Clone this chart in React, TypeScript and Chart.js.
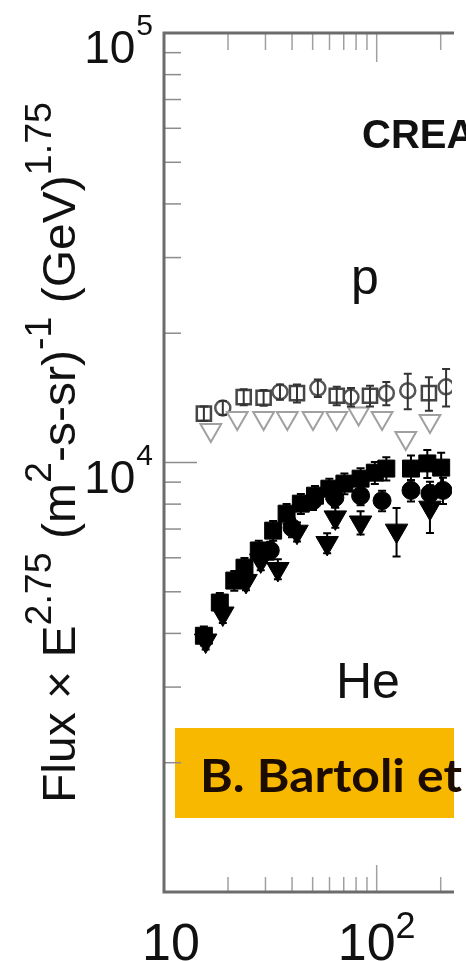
import React, { useEffect, useRef } from "react";
import { Chart, registerables } from "chart.js";

Chart.register(...registerables);

// ---- data (energy in GeV, flux x E^2.75) ----
const pTriE = [16.6, 22.1, 29.4, 38.0, 50.2, 64.9, 82.2, 106, 137, 178];
const pTriF = [11900, 12700, 12700, 12700, 12700, 12700, 13000, 12700, 11400, 12500];

const pSqE = [15.4, 23.7, 29.4, 42.2, 64.9, 93, 176];
const pSqF = [13000, 14200, 14150, 14500, 14300, 14300, 14500];
const pSqErr = [500, 600, 600, 700, 700, 800, 1300];

const pCircE = [18.9, 35.1, 52.9, 75.7, 111, 140, 212];
const pCircF = [13400, 14600, 14900, 14200, 14500, 14700, 15000];
const pCircErr = [500, 600, 700, 700, 900, 1400, 1500];

const heSqE = [15.4, 18.3, 21.4, 23.9, 27.9, 32.6, 37.7, 44.0, 51.3, 59.9, 70.5, 84.0, 98.0, 111, 145, 173, 201];
const heSqF = [3950, 4720, 5310, 5690, 6240, 6940, 7600, 8020, 8370, 8690, 8930, 9170, 9470, 9680, 9680, 9950, 9730];
const heSqErr = [200, 250, 280, 300, 330, 370, 400, 430, 450, 480, 500, 520, 560, 600, 700, 750, 800];

const heTriE = [15.7, 18.9, 24.3, 28.5, 34.3, 42.2, 58.5, 63.9, 84.0, 124, 178];
const heTriF = [3850, 4450, 5300, 5915, 5650, 6900, 6495, 7450, 7250, 6940, 7850];
const heTriErr = [180, 220, 260, 300, 300, 350, 350, 400, 450, 900, 1000];

const heCircE = [31.6, 40, 50.2, 63.6, 84, 106, 145, 178, 205];
const heCircF = [6240, 7050, 8150, 8280, 8370, 8150, 8610, 8470, 8610];
const heCircErr = [300, 350, 400, 400, 420, 450, 500, 550, 600];

// ---- axes ----
const xMin = 10;
const xMax = 226;
const yMin = 1000;
const yMax = 100000;
const xMajorTicks = [10, 100];
const xMinorTicks = [20, 30, 40, 50, 60, 70, 80, 90, 200];
const yMajorTicks = [1000, 10000, 100000];
const yMinorTicks = [2000, 3000, 4000, 5000, 6000, 7000, 8000, 9000, 20000, 30000, 40000, 50000, 60000, 70000, 80000, 90000];
const xLabelValues = [10, 100];
const xLabelBase = ["10", "10"];
const xLabelSup = ["", "2"];
const yLabelValues = [10000, 100000];
const yLabelBase = ["10", "10"];
const yLabelSup = ["4", "5"];

const yTitleParts: [string, boolean][] = [
  ["Flux \u00d7 E", false],
  ["2.75", true],
  [" (m", false],
  ["2", true],
  ["-s-sr)", false],
  ["-1", true],
  [" (GeV)", false],
  ["1.75", true],
];

const annoCream = "CREAM";
const annoP = "p";
const annoHe = "He";
const annoRef = "B. Bartoli et";

const pts = (xs: number[], ys: number[]) => xs.map((x, i) => ({ x, y: ys[i] }));

const MAIN_FONT = "46px 'Liberation Sans', Arial, sans-serif";
const SUP_FONT = "36px 'Liberation Sans', Arial, sans-serif";

const decorPlugin = {
  id: "decor",
  beforeDatasetsDraw(chart: any) {
    const ctx = chart.ctx as CanvasRenderingContext2D;
    const { left, top, right, bottom } = chart.chartArea;
    const xs = chart.scales.x;
    const ys = chart.scales.y;
    ctx.save();
    // orange reference box
    ctx.fillStyle = "#F9B800";
    ctx.fillRect(175, 728, right - 175 + 2, 90);
    ctx.fillStyle = "#1c0c00";
    ctx.font = "bold 46px Lato";
    const w = ctx.measureText(annoRef).width;
    ctx.save();
    ctx.translate(200, 792);
    ctx.scale(262 / w, 1);
    ctx.fillText(annoRef, 0, 0);
    ctx.restore();

    // annotations
    ctx.fillStyle = "#111";
    ctx.font = "bold 40px 'Liberation Sans', Arial, sans-serif";
    ctx.fillText(annoCream, 362, 148);
    ctx.font = "50px 'Liberation Sans', Arial, sans-serif";
    ctx.fillText(annoP, 351, 294);
    ctx.fillText(annoHe, 336, 698);

    // ticks
    ctx.strokeStyle = "#8c8c8c";
    ctx.lineWidth = 1.5;
    const line = (x1: number, y1: number, x2: number, y2: number) => {
      ctx.beginPath();
      ctx.moveTo(x1, y1);
      ctx.lineTo(x2, y2);
      ctx.stroke();
    };
    yMinorTicks.forEach((v) => {
      const py = ys.getPixelForValue(v);
      line(left, py, left + 17, py);
    });
    yMajorTicks.forEach((v) => {
      const py = ys.getPixelForValue(v);
      line(left, py, left + 33, py);
    });
    ctx.strokeStyle = "#a0a0a0";
    xMinorTicks.forEach((v) => {
      const px = xs.getPixelForValue(v);
      line(px, bottom, px, bottom - 15);
      line(px, top, px, top + 17);
    });
    xMajorTicks.forEach((v) => {
      const px = xs.getPixelForValue(v);
      line(px, bottom, px, bottom - 27);
      line(px, top, px, top + 29);
    });

    // axis lines
    ctx.strokeStyle = "#6c6c6c";
    ctx.lineWidth = 3;
    ctx.beginPath();
    ctx.moveTo(right + 2, top);
    ctx.lineTo(left, top);
    ctx.lineTo(left, bottom);
    ctx.lineTo(right + 2, bottom);
    ctx.stroke();

    // tick labels
    ctx.fillStyle = "#111";
    yLabelValues.forEach((v, i) => {
      const py = ys.getPixelForValue(v);
      ctx.font = "30px 'Liberation Sans', Arial, sans-serif";
      const sw = ctx.measureText(yLabelSup[i]).width;
      ctx.textAlign = "right";
      ctx.fillText(yLabelSup[i], 153, py + 2);
      ctx.font = "46px 'Liberation Sans', Arial, sans-serif";
      ctx.fillText(yLabelBase[i], 153 - sw - 1, py + 30);
      ctx.textAlign = "left";
    });
    xLabelValues.forEach((v, i) => {
      const px = xs.getPixelForValue(v);
      ctx.font = "52px 'Liberation Sans', Arial, sans-serif";
      const bw = ctx.measureText(xLabelBase[i]).width;
      ctx.font = "36px 'Liberation Sans', Arial, sans-serif";
      const sw = xLabelSup[i] ? ctx.measureText(xLabelSup[i]).width : 0;
      const total = bw + sw;
      const cx = Math.max(px, 171);
      const x0 = cx - total / 2;
      ctx.font = "52px 'Liberation Sans', Arial, sans-serif";
      ctx.fillText(xLabelBase[i], x0, 960);
      if (xLabelSup[i]) {
        ctx.font = "36px 'Liberation Sans', Arial, sans-serif";
        ctx.fillText(xLabelSup[i], x0 + bw, 938);
      }
    });

    // y title (rotated), fitted between y=803 (start) and y=102 (end)
    let total = 0;
    yTitleParts.forEach(([t, sup]) => {
      ctx.font = sup ? SUP_FONT : MAIN_FONT;
      total += ctx.measureText(t).width;
    });
    const target = 803 - 102;
    ctx.save();
    ctx.translate(75, 803);
    ctx.rotate(-Math.PI / 2);
    ctx.scale(target / total, 1);
    let cur = 0;
    yTitleParts.forEach(([t, sup]) => {
      ctx.font = sup ? SUP_FONT : MAIN_FONT;
      ctx.fillText(t, cur, sup ? -24 : 0);
      cur += ctx.measureText(t).width;
    });
    ctx.restore();

    ctx.restore();
  },
  afterDatasetsDraw(chart: any) {
    const ctx = chart.ctx as CanvasRenderingContext2D;
    const xs = chart.scales.x;
    const ys = chart.scales.y;
    ctx.save();
    chart.data.datasets.forEach((ds: any) => {
      if (!ds.errs) return;
      ctx.strokeStyle = ds.errColor;
      ctx.lineWidth = 2;
      ds.data.forEach((p: any, i: number) => {
        const e = ds.errs[i];
        const px = xs.getPixelForValue(p.x);
        const y1 = ys.getPixelForValue(p.y + e);
        const y2 = ys.getPixelForValue(p.y - e);
        ctx.beginPath();
        ctx.moveTo(px, y1);
        ctx.lineTo(px, y2);
        ctx.moveTo(px - 4, y1);
        ctx.lineTo(px + 4, y1);
        ctx.moveTo(px - 4, y2);
        ctx.lineTo(px + 4, y2);
        ctx.stroke();
      });
    });
    ctx.restore();
  },
};

export default function App() {
  const ref = useRef<HTMLCanvasElement | null>(null);
  useEffect(() => {
    document.body.style.margin = "0";
    const canvas = ref.current!;
    const chart = new Chart(canvas, {
      type: "scatter",
      data: {
        datasets: [
          {
            data: pts(pTriE, pTriF),
            pointStyle: "triangle",
            pointRotation: 180,
            pointRadius: 12,
            pointBorderColor: "#a0a0a0",
            pointBackgroundColor: "#ffffff",
            pointBorderWidth: 2,
          },
          {
            data: pts(pSqE, pSqF),
            pointStyle: "rect",
            pointRadius: 10,
            pointBorderColor: "#454545",
            pointBackgroundColor: "rgba(255,255,255,0.85)",
            pointBorderWidth: 2.5,
            errs: pSqErr,
            errColor: "#333333",
          },
          {
            data: pts(pCircE, pCircF),
            pointStyle: "circle",
            pointRadius: 7.5,
            pointBorderColor: "#555555",
            pointBackgroundColor: "rgba(255,255,255,0.85)",
            pointBorderWidth: 2.5,
            errs: pCircErr,
            errColor: "#333333",
          },
          {
            data: pts(heCircE, heCircF),
            pointStyle: "circle",
            pointRadius: 9,
            pointBorderColor: "#000000",
            pointBackgroundColor: "#000000",
            pointBorderWidth: 1,
            errs: heCircErr,
            errColor: "#000000",
          },
          {
            data: pts(heTriE, heTriF),
            pointStyle: "triangle",
            pointRotation: 180,
            pointRadius: 13,
            pointBorderColor: "#000000",
            pointBackgroundColor: "#000000",
            pointBorderWidth: 1,
            errs: heTriErr,
            errColor: "#000000",
          },
          {
            data: pts(heSqE, heSqF),
            pointStyle: "rect",
            pointRadius: 12,
            pointBorderColor: "#000000",
            pointBackgroundColor: "#000000",
            pointBorderWidth: 1,
            errs: heSqErr,
            errColor: "#000000",
          },
        ] as any,
      },
      options: {
        animation: false,
        responsive: false,
        devicePixelRatio: 1,
        layout: { padding: { left: 164, top: 33, right: 0, bottom: 69 } },
        plugins: { legend: { display: false }, tooltip: { enabled: false } },
        scales: {
          x: { type: "logarithmic", min: xMin, max: xMax, display: false },
          y: { type: "logarithmic", min: yMin, max: yMax, display: false },
        },
      },
      plugins: [decorPlugin],
    });
    return () => chart.destroy();
  }, []);
  return <canvas ref={ref} width={466} height={961} style={{ display: "block" }} />;
}
